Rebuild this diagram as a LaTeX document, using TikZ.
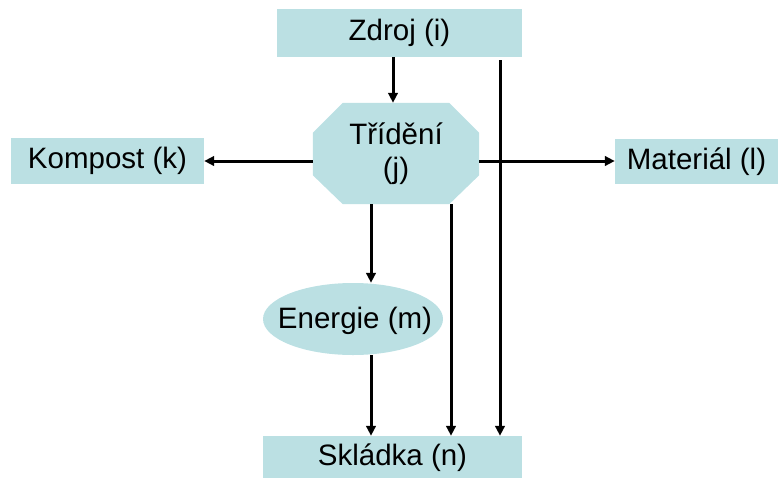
\documentclass[tikz,border=0pt]{standalone}
\usepackage{fontspec}
\setmainfont{Liberation Sans}
\usetikzlibrary{arrows.meta,calc,shapes.geometric}
\definecolor{boxfill}{HTML}{BBE0E3}

\begin{document}
\begin{tikzpicture}[x=1pt,y=-1pt,
  box/.style={fill=boxfill, draw=none, inner sep=0pt, font=\fontsize{29.5}{34}\selectfont},
  arr/.style={line width=3pt, -{Triangle[length=10pt,width=9.5pt]}}]
\useasboundingbox (0,0) rectangle (778,477);

% vertical guide positions for the flows
\coordinate (c1) at (393,0);
\coordinate (c2) at (371,0);
\coordinate (c4) at (451,0);
\coordinate (c3) at (500,0);

% boxes
\node[box, minimum width=245, minimum height=48] (zdroj) at (399.5,33) {Zdroj (i)};
\node[box, minimum width=193, minimum height=46] (kompost) at (107.5,161) {Kompost (k)};
\node[box, minimum width=163, minimum height=45] (material) at (696.5,161.5) {Materiál (l)};
\node[box, minimum width=259, minimum height=44] (skladka) at (392.5,458) {Skládka (n)};
\node[box, ellipse, minimum width=180, minimum height=72] (energie) at (353,319) {};
\node[box, fill=none] at (355,321) {Energie (m)};

% sorting node: chamfered octagon
\node[box, fill=none, minimum width=166, minimum height=101] (trid) at (396,153.5) {};
\fill[boxfill] ($(trid.north west)+(30,0)$) -- ($(trid.north east)+(-30,0)$)
  -- ($(trid.north east)+(0,30)$) -- ($(trid.south east)+(0,-29)$)
  -- ($(trid.south east)+(-30,0)$) -- ($(trid.south west)+(30,0)$)
  -- ($(trid.south west)+(0,-29)$) -- ($(trid.north west)+(0,30)$) -- cycle;
\node[box, fill=none, align=center] at (trid) {Třídění\\(j)};

% flows
\draw[arr] (zdroj.south -| c1) -- (trid.north -| c1);
\draw[arr] (trid.west |- kompost) -- (kompost.east);
\draw[arr] (trid.east |- kompost) -- (material.west |- kompost);
\draw[arr] ($(zdroj.south -| c3)+(0,3)$) -- (skladka.north -| c3);
\draw[arr] (trid.south -| c2) -- (energie.north -| c2);
\draw[arr] (energie.south -| c2) -- (skladka.north -| c2);
\draw[arr] (trid.south -| c4) -- (skladka.north -| c4);
\end{tikzpicture}
\end{document}
